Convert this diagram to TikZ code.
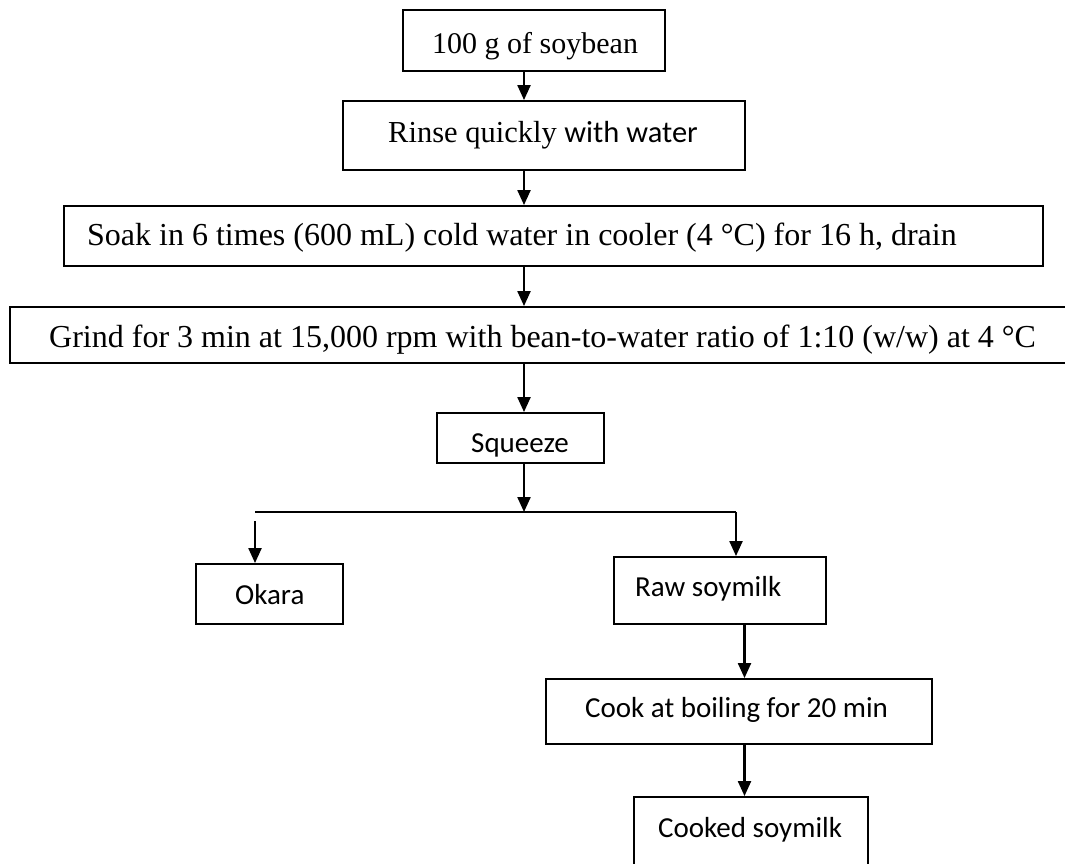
\documentclass[tikz,border=0pt]{standalone}
\usepackage{fontspec}
\setmainfont{Liberation Serif}
\newfontfamily\calfont{Carlito}
\usetikzlibrary{arrows.meta}
\begin{document}
\begin{tikzpicture}[x=1pt,y=-1pt,
  box/.style={draw, line width=1.9pt, inner sep=0pt},
  txt/.style={anchor=base west, inner sep=0pt},
  serA/.style={font=\fontsize{30}{36}\selectfont},
  serB/.style={font=\fontsize{32}{38}\selectfont},
  sans/.style={font=\calfont\fontsize{29}{35}\selectfont},
  arr/.style={line width=2.2pt, -{Triangle[length=15pt,width=13pt]}},
  split/.style={line width=1.6pt},
]
\useasboundingbox (0,0) rectangle (1065,863);
\fill[white] (0,0) rectangle (1065,863);
\begin{scope}
\clip (0,0) rectangle (1065,863);
% boxes
\node[box, minimum width=262pt, minimum height=61pt] (soy) at (534,40.5) {};
\node[box, minimum width=402pt, minimum height=69pt] (rinse) at (544,135.5) {};
\node[box, minimum width=979pt, minimum height=60pt] (soak) at (553.5,236) {};
\node[box, minimum width=1075pt, minimum height=56pt] (grind) at (547.5,335) {};
\node[box, minimum width=167pt, minimum height=50pt] (squeeze) at (520.5,438) {};
\node[box, minimum width=147pt, minimum height=60pt] (okara) at (269.5,594) {};
\node[box, minimum width=212pt, minimum height=67pt] (raw) at (720,590.5) {};
\node[box, minimum width=386pt, minimum height=65pt] (cook) at (739,711.5) {};
\node[box, minimum width=234pt, minimum height=80pt] (cooked) at (751,837) {};
% texts
\node[txt, serA] (soyt) at (432,53) {100 g of soybean};
\node[txt, font=\fontsize{30.5}{36}\selectfont] (rinset) at (388,142) {Rinse quickly {\calfont with water}};
\node[txt, serB] (soakt) at (87,245) {Soak in 6 times (600 mL) cold water in cooler (4 °C) for 16 h, drain};
\node[txt, serB] (grindt) at (49,347) {Grind for 3 min at 15,000 rpm with bean-to-water ratio of 1:10 (w/w) at 4 °C};
\node[txt, sans] (squeezet) at (471,452) {Squeeze};
\node[txt, sans] (okarat) at (235,604) {Okara};
\node[txt, sans] (rawt) at (635,596) {Raw soymilk};
\node[txt, sans] (cookt) at (585,717) {Cook at boiling for 20 min};
\node[txt, sans] (cookedt) at (658,837) {Cooked soymilk};
% connectors
\coordinate (sp) at (524,0);
\coordinate (jl) at (255,512);
\coordinate (jr) at (736,512);
\coordinate (jl2) at (255,521);
\coordinate (rc) at (744.5,0);
\draw[arr] (soy.south -| sp) -- (rinse.north -| sp);
\draw[arr] (rinse.south -| sp) -- (soak.north -| sp);
\draw[arr] (soak.south -| sp) -- (grind.north -| sp);
\draw[arr] (grind.south -| sp) -- (squeeze.north -| sp);
\draw[arr] (squeeze.south -| sp) -- (sp |- jl);
\draw[split] (jl) -- (jr);
\draw[arr] (jl2) -- (okara.north -| jl2);
\draw[arr] (jr) -- (raw.north -| jr);
\draw[arr] (raw.south -| rc) -- (cook.north -| rc);
\draw[arr] (cook.south -| rc) -- (cooked.north -| rc);
\end{scope}
\end{tikzpicture}
\end{document}
